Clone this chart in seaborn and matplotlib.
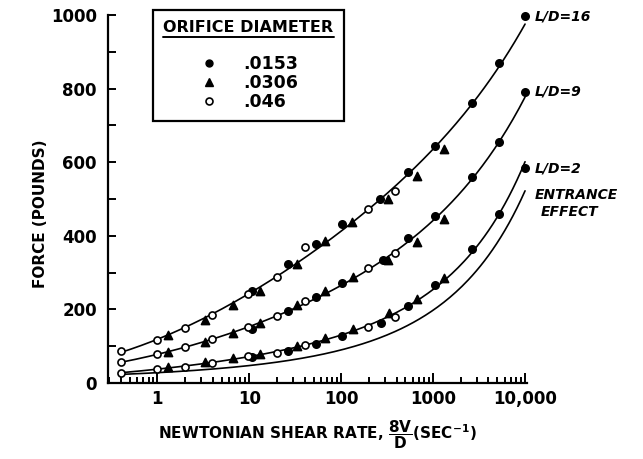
import numpy as np
import pandas as pd
import seaborn as sns
import matplotlib.pyplot as plt
from matplotlib.lines import Line2D
from matplotlib.ticker import LogLocator, MultipleLocator, NullFormatter

# ---------------- data ----------------
diameters = [".0153", ".0306", ".046"]
curve_labels = ["L/D=16", "L/D=9", "L/D=2"]

# L/D = 16
ld16_x_0153 = [10.8, 26.5, 53, 102, 265, 533, 1050, 2660, 5200, 10000]
ld16_y_0153 = [250, 323, 378, 432, 500, 573, 644, 761, 870, 997]
ld16_x_0306 = [1.32, 3.3, 6.7, 13.1, 33, 67, 131, 324, 665, 1315]
ld16_y_0306 = [130, 171, 212, 250, 323, 386, 437, 500, 562, 636]
ld16_x_046 = [0.40, 1.0, 2.0, 3.96, 9.7, 20, 40, 197, 385]
ld16_y_046 = [87, 117, 149, 185, 242, 288, 370, 473, 522]

# L/D = 9
ld9_x_0153 = [10.8, 26.5, 53, 102, 285, 533, 1050, 2660, 5200, 10000]
ld9_y_0153 = [147, 196, 234, 272, 334, 394, 454, 560, 655, 791]
ld9_x_0306 = [1.32, 3.3, 6.7, 13.1, 33, 67, 134, 324, 665, 1315]
ld9_y_0306 = [84, 111, 136, 163, 211, 250, 288, 334, 383, 446]
ld9_x_046 = [0.40, 1.0, 2.0, 3.96, 9.7, 20, 40, 197, 385]
ld9_y_046 = [57, 79, 98, 120, 152, 182, 223, 312, 353]

# L/D = 2
ld2_x_0153 = [10.8, 26.5, 53, 102, 270, 533, 1050, 2660, 5200, 10000]
ld2_y_0153 = [71, 87, 106, 128, 164, 209, 266, 364, 459, 584]
ld2_x_0306 = [1.32, 3.3, 6.7, 13.1, 33, 67, 134, 330, 665, 1315]
ld2_y_0306 = [43, 57, 68, 79, 100, 122, 147, 190, 228, 285]
ld2_x_046 = [0.40, 1.0, 2.0, 3.96, 9.7, 20, 40, 197, 385]
ld2_y_046 = [27, 38, 44, 54, 73, 82, 103, 152, 179]

# Entrance effect curve (line only)
entr_x = [0.4, 1, 10, 40, 100, 265, 600, 1400, 3240, 7400, 10000]
entr_y = [22, 31, 45, 68, 90, 125, 163, 225, 326, 451, 516]

x_ticks = [1, 10, 100, 1000, 10000]
x_tick_labels = ["1", "10", "100", "1000", "10,000"]
y_ticks = [0, 200, 400, 600, 800, 1000]
y_tick_labels = ["0", "200", "400", "600", "800", "1000"]

# ---------------- build tables ----------------
series = {
    "L/D=16": [(ld16_x_0153, ld16_y_0153), (ld16_x_0306, ld16_y_0306), (ld16_x_046, ld16_y_046)],
    "L/D=9": [(ld9_x_0153, ld9_y_0153), (ld9_x_0306, ld9_y_0306), (ld9_x_046, ld9_y_046)],
    "L/D=2": [(ld2_x_0153, ld2_y_0153), (ld2_x_0306, ld2_y_0306), (ld2_x_046, ld2_y_046)],
}
rows = []
for ld, groups in series.items():
    for d, (xs, ys) in zip(diameters, groups):
        for xv, yv in zip(xs, ys):
            rows.append({"curve": ld, "diam": d, "x": xv, "y": yv})
pts = pd.DataFrame(rows)

def fit_curve(xs, ys, lo=0.4, hi=10000):
    c = np.polyfit(np.log10(xs), np.log(ys), 3)
    gx = np.geomspace(lo, hi, 200)
    return pd.DataFrame({"x": gx, "y": np.exp(np.polyval(c, np.log10(gx)))})

# ---------------- figure ----------------
sns.set_theme(style="ticks")
plt.rcParams["font.family"] = ["DejaVu Sans"]
plt.rcParams["mathtext.fontset"] = "dejavusans"
plt.rcParams["text.color"] = "black"
plt.rcParams["axes.labelcolor"] = "black"
plt.rcParams["legend.labelcolor"] = "black"

fig = plt.figure(figsize=(6.43, 4.59), dpi=100)
fig.patch.set_facecolor("white")
ax = fig.add_axes([108 / 643, 1 - 383 / 459, (527 - 108) / 643, (383 - 15) / 459])
ax.set_facecolor("white")

lw = 1.2
for ld in curve_labels:
    sub = pts[pts["curve"] == ld]
    sns.lineplot(data=fit_curve(sub["x"], sub["y"]), x="x", y="y", ax=ax,
                 color="black", linewidth=lw, legend=False)
sns.lineplot(data=fit_curve(entr_x, entr_y), x="x", y="y", ax=ax,
             color="black", linewidth=lw, legend=False)

marker_map = {".0153": "o", ".0306": "^", ".046": "o"}
face_map = {".0153": "black", ".0306": "black", ".046": "white"}
size_map = {".0153": 28, ".0306": 34, ".046": 26}
for d in diameters:
    sub = pts[pts["diam"] == d]
    sns.scatterplot(data=sub, x="x", y="y", ax=ax, marker=marker_map[d],
                    color=face_map[d], edgecolor="black", linewidth=1.2,
                    s=size_map[d], legend=False, zorder=5, clip_on=False)

ax.set_xscale("log")
ax.set_xlim(0.29, 10500)
ax.set_ylim(0, 1000)
ax.set_xticks(x_ticks)
ax.set_xticklabels(x_tick_labels)
ax.xaxis.set_minor_locator(LogLocator(base=10, subs=range(2, 10), numticks=20))
ax.xaxis.set_minor_formatter(NullFormatter())
ax.set_yticks(y_ticks)
ax.set_yticklabels(y_tick_labels)
ax.yaxis.set_minor_locator(MultipleLocator(100))

ax.tick_params(which="both", direction="in", color="black", width=1.4,
               labelsize=12, labelcolor="black")
ax.tick_params(axis="y", which="both", length=6, pad=8)
ax.tick_params(axis="x", which="major", length=7, pad=5)
ax.tick_params(axis="x", which="minor", length=4.5)
for lab in ax.get_xticklabels() + ax.get_yticklabels():
    lab.set_fontweight("bold")

sns.despine(ax=ax)
for s in ["left", "bottom"]:
    ax.spines[s].set_linewidth(1.6)
    ax.spines[s].set_color("black")

ax.set_xlabel(r"NEWTONIAN SHEAR RATE, $\dfrac{\mathbf{8V}}{\mathbf{D}}$(SEC$^{\mathbf{-1}}$)",
              fontsize=11, fontweight="bold", color="black", va="center")
ax.xaxis.set_label_coords(0.50, -0.14)
ax.set_ylabel("FORCE (POUNDS)", fontsize=11, fontweight="bold", color="black", va="center")
ax.yaxis.set_label_coords(-0.162, 0.46)

# curve labels
ends = {"L/D=16": (ld16_x_0153[-1], ld16_y_0153[-1]),
        "L/D=9": (ld9_x_0153[-1], ld9_y_0153[-1]),
        "L/D=2": (ld2_x_0153[-1], ld2_y_0153[-1])}
tkw = dict(textcoords="offset points", va="center", ha="left", fontsize=10,
           fontstyle="italic", fontweight="bold", color="black", annotation_clip=False)
for ld, (xe, ye) in ends.items():
    ax.annotate(ld, xy=(xe, ye), xytext=(7, 0), **tkw)
ax.annotate("ENTRANCE", xy=(entr_x[-1], entr_y[-1]), xytext=(7, -1), **tkw)
ax.annotate("EFFECT", xy=(entr_x[-1], entr_y[-1]), xytext=(11, -13.5), **tkw)

# legend
handles = [
    Line2D([], [], linestyle="none", marker="o", markersize=5, markerfacecolor="black",
           markeredgecolor="black"),
    Line2D([], [], linestyle="none", marker="^", markersize=6, markerfacecolor="black",
           markeredgecolor="black"),
    Line2D([], [], linestyle="none", marker="o", markersize=5, markerfacecolor="white",
           markeredgecolor="black", markeredgewidth=1.2),
]
leg = fig.legend(handles, diameters, title="ORIFICE DIAMETER", loc="upper left",
                 bbox_to_anchor=(153 / 643, 1 - 10 / 459), borderaxespad=0,
                 frameon=True, fancybox=False,
                 edgecolor="black", framealpha=1, prop={"size": 12.5, "weight": "bold"},
                 title_fontproperties={"size": 11.5, "weight": "bold"},
                 handlelength=1.2, handletextpad=1.4, labelspacing=0.05, borderpad=0.6)
leg.get_frame().set_linewidth(1.6)
leg.get_title().set_color("black")
for t in leg.get_texts():
    t.set_color("black")
leg._legend_box.sep = 14

fig.canvas.draw()
bb = leg.get_title().get_window_extent()
W, H = fig.bbox.width, fig.bbox.height
fig.add_artist(Line2D([bb.x0 / W, bb.x1 / W], [(bb.y0 - 1.5) / H, (bb.y0 - 1.5) / H],
                      transform=fig.transFigure, color="black", linewidth=1.4, zorder=20))

fig.savefig("out.png", dpi=100, facecolor="white")
